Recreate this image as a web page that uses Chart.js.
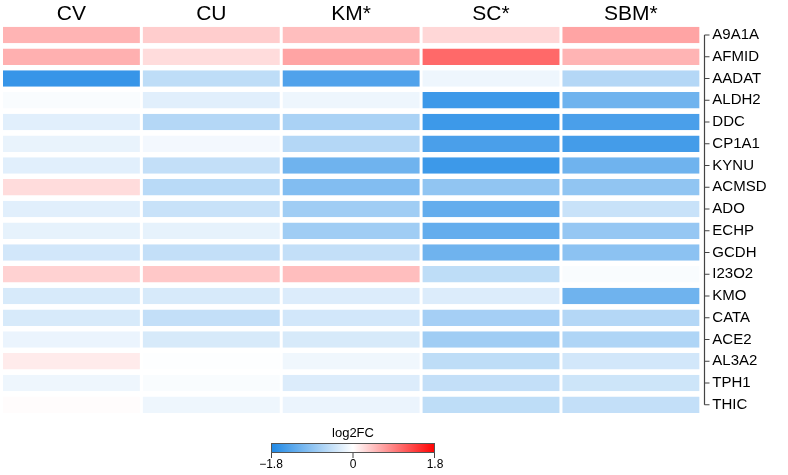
<!DOCTYPE html>
<html>
<head>
<meta charset="utf-8">
<script src="https://cdn.jsdelivr.net/npm/chart.js@4.4.1/dist/chart.umd.min.js"></script>
<style>
  html, body { margin: 0; padding: 0; background: #fff; }
  #wrap { width: 788px; height: 475px; position: relative; }
</style>
</head>
<body>
<div id="wrap"><canvas id="heat"></canvas></div>
<script>
// columns and rows of the heatmap
const columns = ["CV", "CU", "KM*", "SC*", "SBM*"];
const genes = ["A9A1A", "AFMID", "AADAT", "ALDH2", "DDC", "CP1A1", "KYNU", "ACMSD", "ADO",
  "ECHP", "GCDH", "I23O2", "KMO", "CATA", "ACE2", "AL3A2", "TPH1", "THIC"];

// log2FC values, one array per column, in the order of genes
const cvValues  = [0.53, 0.56, -1.6, -0.05, -0.24, -0.18, -0.24, 0.25, -0.24, -0.2, -0.36, 0.32, -0.32, -0.32, -0.16, 0.14, -0.14, 0.02];
const cuValues  = [0.35, 0.25, -0.52, -0.24, -0.6, -0.1, -0.48, -0.56, -0.44, -0.2, -0.48, 0.39, -0.32, -0.48, -0.32, -0.02, -0.05, -0.14];
const kmValues  = [0.46, 0.64, -1.4, -0.14, -0.68, -0.6, -1.15, -1.0, -0.76, -0.76, -0.48, 0.46, -0.28, -0.36, -0.32, -0.12, -0.28, -0.16];
const scValues  = [0.28, 1.06, -0.14, -1.55, -1.55, -1.45, -1.55, -0.88, -1.24, -1.24, -1.15, -0.52, -0.28, -0.72, -0.76, -0.52, -0.48, -0.52];
const sbmValues = [0.64, 0.53, -0.6, -1.15, -1.45, -1.5, -1.15, -0.88, -0.44, -0.84, -0.92, -0.05, -1.15, -0.6, -0.64, -0.36, -0.4, -0.48];
const allValues = [cvValues, cuValues, kmValues, scValues, sbmValues];

const scaleMin = -1.8;
const scaleMax = 1.8;
const scaleTicks = [-1.8, 0, 1.8];

const lowColor = [30, 136, 229];
const highColor = [255, 0, 0];

function fcColor(v) {
  const t = Math.min(Math.abs(v) / scaleMax, 1);
  const end = v < 0 ? lowColor : highColor;
  const c = end.map(e => Math.round(255 + (e - 255) * t));
  return `rgb(${c[0]}, ${c[1]}, ${c[2]})`;
}

// right axis bracket (line + ticks) and the color bar
const extras = {
  id: "extras",
  afterDraw(chart) {
    const ctx = chart.ctx;
    const y = chart.scales.y;
    const lx = Math.round(y.left + 3) + 0.5;
    ctx.save();
    ctx.strokeStyle = "#444";
    ctx.lineWidth = 1.2;
    ctx.beginPath();
    ctx.moveTo(lx, y.getPixelForTick(0));
    ctx.lineTo(lx, y.getPixelForTick(genes.length - 1));
    genes.forEach((g, i) => {
      const py = y.getPixelForTick(i);
      ctx.moveTo(lx, py);
      ctx.lineTo(lx + 5, py);
    });
    ctx.stroke();

    // color bar
    const bx = 271, by = 443, bw = 164, bh = 10;
    const grad = ctx.createLinearGradient(bx, 0, bx + bw, 0);
    grad.addColorStop(0, fcColor(scaleMin));
    grad.addColorStop(0.5, fcColor(0));
    grad.addColorStop(1, fcColor(scaleMax));
    ctx.fillStyle = grad;
    ctx.fillRect(bx, by, bw, bh);
    ctx.strokeStyle = "#555";
    ctx.lineWidth = 1;
    ctx.strokeRect(bx + 0.5, by + 0.5, bw - 1, bh - 1);

    ctx.fillStyle = "#000";
    ctx.font = "13px 'Liberation Sans', Arial, sans-serif";
    ctx.textAlign = "center";
    ctx.textBaseline = "alphabetic";
    ctx.fillText("log2FC", bx + bw / 2, by - 6);

    ctx.strokeStyle = "#444";
    ctx.font = "12px 'Liberation Sans', Arial, sans-serif";
    ctx.textBaseline = "top";
    scaleTicks.forEach(t => {
      const px = bx + (t - scaleMin) / (scaleMax - scaleMin) * bw;
      const tx = Math.min(Math.max(px, bx + 0.5), bx + bw - 0.5);
      ctx.beginPath();
      ctx.moveTo(tx, by + bh);
      ctx.lineTo(tx, by + bh + 5);
      ctx.stroke();
      ctx.fillText(t === 0 ? "0" : t.toFixed(1).replace("-", "\u2212"), px, by + bh + 6);
    });
    ctx.restore();
  }
};

new Chart(document.getElementById("heat"), {
  type: "bar",
  data: {
    labels: genes,
    datasets: columns.map((name, i) => ({
      label: name,
      data: genes.map(() => [i, i + 1]),
      backgroundColor: allValues[i].map(fcColor),
      borderColor: "#fff",
      borderWidth: { top: 0, bottom: 0, left: 1.5, right: 1.5 },
      borderSkipped: false,
      grouped: false,
      barPercentage: 0.765,
      categoryPercentage: 1
    }))
  },
  options: {
    indexAxis: "y",
    responsive: true,
    maintainAspectRatio: false,
    animation: false,
    layout: { padding: { left: 1.5, right: 10, top: 0, bottom: 59.4 } },
    plugins: { legend: { display: false }, tooltip: { enabled: false } },
    scales: {
      x: {
        type: "linear",
        position: "top",
        min: 0,
        max: columns.length,
        grid: { display: false, drawTicks: false },
        border: { display: false },
        afterBuildTicks: axis => { axis.ticks = columns.map((c, i) => ({ value: i + 0.5 })); },
        afterFit: axis => { axis.height = 24.1; },
        ticks: {
          autoSkip: false,
          maxRotation: 0,
          padding: -3,
          color: "#000",
          font: { family: "'Liberation Sans', Arial, sans-serif", size: 21 },
          callback: (v, idx) => columns[idx]
        }
      },
      y: {
        type: "category",
        position: "right",
        offset: true,
        grid: { display: false, drawTicks: false },
        border: { display: false },
        ticks: {
          padding: 11.5,
          color: "#000",
          font: { family: "'Liberation Sans', Arial, sans-serif", size: 15 }
        }
      }
    }
  },
  plugins: [extras]
});
</script>
</body>
</html>
